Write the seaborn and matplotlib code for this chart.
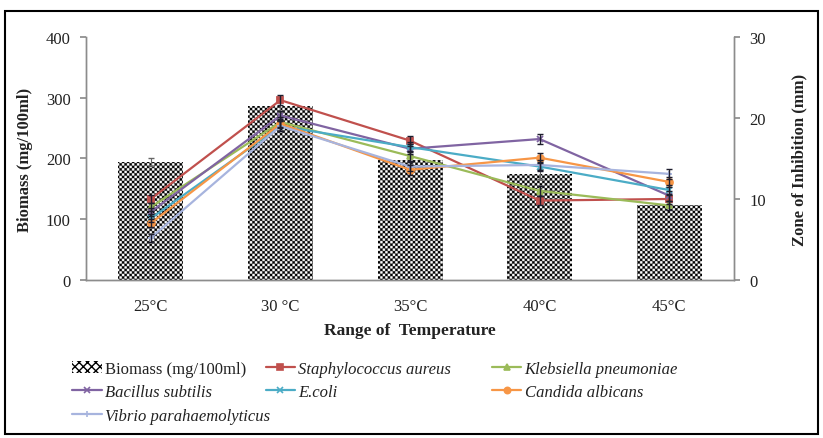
import numpy as np
import pandas as pd
import matplotlib
matplotlib.use("Agg")
import matplotlib.pyplot as plt
from matplotlib.patches import Patch, Rectangle
from matplotlib.lines import Line2D
from matplotlib.font_manager import FontProperties
import seaborn as sns

# ---- data -------------------------------------------------------------
temperatures = ["25°C", "30 °C", "35°C", "40°C", "45°C"]
biomass = [194, 286, 198, 174, 123]          # mg/100ml
biomass_err = [6, 10, 7, 8, 5]

staphylococcus = [10.0, 22.2, 17.2, 9.8, 10.0]   # zone of inhibition, mm
klebsiella = [9.0, 19.5, 15.3, 11.0, 9.2]
bacillus = [8.4, 20.3, 16.2, 17.4, 10.4]
e_coli = [7.6, 19.0, 16.4, 14.0, 11.1]
candida = [7.0, 19.3, 13.6, 15.1, 12.1]
vibrio = [5.2, 19.0, 14.0, 14.2, 13.1]
zone_err = [0.5, 0.6, 0.6, 0.6, 0.6]

species_names = ["Staphylococcus aureus", "Klebsiella pneumoniae", "Bacillus subtilis",
                 "E.coli", "Candida albicans", "Vibrio parahaemolyticus"]
species_values = [staphylococcus, klebsiella, bacillus, e_coli, candida, vibrio]
species_colors = ["#C0504D", "#9BBB59", "#8064A2", "#4BACC6", "#F79646", "#A7B4DE"]
species_markers = ["s", "^", "x", "x", "o", "+"]

# ---- style ------------------------------------------------------------
sns.set_theme(style="white")
plt.rcParams["font.family"] = ["Liberation Serif", "DejaVu Serif"]
plt.rcParams["axes.edgecolor"] = "#8c8c8c"
text_color = "#222222"

fig = plt.figure(figsize=(8.23, 4.39), dpi=100)
ax = fig.add_axes([0.1045, 0.36, 0.7875, 0.5535])

# ---- biomass bars -----------------------------------------------------
bar_df = pd.DataFrame({"Temperature": temperatures, "Biomass": biomass})
sns.barplot(data=bar_df, x="Temperature", y="Biomass", order=temperatures,
            color="white", width=0.5, errorbar=None, ax=ax, zorder=1)
ax.errorbar(np.arange(len(temperatures)), biomass, yerr=biomass_err, fmt="none",
            ecolor="#666666", elinewidth=0.8, capsize=2, zorder=2)
ax.set_xlim(-0.5, len(temperatures) - 0.5)
ax.set_ylim(0, 400)

# checkerboard texture, clipped to every bar
fig.canvas.draw()
bbox = ax.get_window_extent()
W, H, ss = int(bbox.width), int(bbox.height), 4
px = (np.arange(W * ss) + 0.5) / ss
py = (np.arange(H * ss) + 0.5) / ss
XX, YY = np.meshgrid(px, py)
period = 5.0
field = np.cos(2 * np.pi * XX / period) * np.cos(2 * np.pi * YY / period)
texture = np.where(field > -0.05, 0.0, 1.0)
x0, x1 = ax.get_xlim()
y0, y1 = ax.get_ylim()
for bar in list(ax.patches):
    bar.set_edgecolor("none")
    im = ax.imshow(texture, cmap="gray", vmin=0, vmax=1, extent=(x0, x1, y0, y1),
                   aspect="auto", interpolation="antialiased", zorder=1.5, origin="lower")
    im.set_clip_path(bar)
ax.set_xlim(x0, x1)
ax.set_ylim(y0, y1)

# ---- zone-of-inhibition lines ----------------------------------------
ax2 = ax.twinx()
positions = np.arange(len(temperatures))
for name, vals, col, mk in zip(species_names, species_values, species_colors, species_markers):
    sns.lineplot(x=positions, y=vals, color=col, marker=mk, markersize=5,
                 markeredgewidth=1.3, markeredgecolor=col, linewidth=1.6,
                 ax=ax2, zorder=3, label=name, legend=False)
for vals in species_values:
    ax2.errorbar(positions, vals, yerr=zone_err, fmt="none", ecolor="#1e1e2e",
                 elinewidth=1.0, capsize=2.0, zorder=4)
ax2.set_ylim(0, 30)
ax2.set_xlim(x0, x1)
ax2.set_xlabel("")

# ---- axes cosmetics ---------------------------------------------------
for a in (ax, ax2):
    a.spines["top"].set_visible(False)
    for s in ("left", "right", "bottom"):
        a.spines[s].set_color("#8c8c8c")
        a.spines[s].set_linewidth(1.0)
    a.grid(False)

serif = "Liberation Serif"
ax.set_xticks(positions)
ax.set_xticklabels(temperatures)
ax.set_yticks([0, 100, 200, 300, 400])
ax2.set_yticks([0, 10, 20, 30])
ax.tick_params(axis="y", direction="out", length=4, color="#8c8c8c",
               labelsize=12, labelcolor=text_color, pad=7, left=True)
ax2.tick_params(axis="y", direction="out", length=4, color="#8c8c8c",
                labelsize=12, labelcolor=text_color, pad=7, right=True)
ax.tick_params(axis="x", length=0, labelsize=12, labelcolor=text_color, pad=13,
               bottom=True, labelbottom=True)
ax2.tick_params(axis="x", bottom=False, labelbottom=False, top=False, labeltop=False)

ax.set_xlabel("Range of  Temperature", fontsize=12.5, fontweight="bold",
              color=text_color, labelpad=6, family=serif)
ax.set_ylabel("Biomass (mg/100ml)", fontsize=12, fontweight="bold",
              color=text_color, labelpad=9, family=serif)
ax2.set_ylabel("Zone of Inhibition (mm)", fontsize=12, fontweight="bold",
               color=text_color, labelpad=18, family=serif)

# ---- legend (three columns below the plot) ---------------------------
biomass_handle = Patch(facecolor="white", edgecolor="black", hatch="xxxx", linewidth=0)
line_handles = {
    name: Line2D([], [], color=col, marker=m, markersize=4.5, linewidth=1.6,
                 markeredgewidth=1.2)
    for name, col, m in zip(species_names, species_colors, species_markers)
}
columns = [
    ([biomass_handle, line_handles["Bacillus subtilis"], line_handles["Vibrio parahaemolyticus"]],
     ["Biomass (mg/100ml)", "Bacillus subtilis", "Vibrio parahaemolyticus"], 0.088),
    ([line_handles["Staphylococcus aureus"], line_handles["E.coli"]],
     ["Staphylococcus aureus", "E.coli"], 0.323),
    ([line_handles["Klebsiella pneumoniae"], line_handles["Candida albicans"]],
     ["Klebsiella pneumoniae", "Candida albicans"], 0.598),
]
legend_font = FontProperties(family=serif, size=12)
for handles, labels, xpos in columns:
    leg = fig.legend(handles, labels, loc="upper left", bbox_to_anchor=(xpos, 0.176),
                     frameon=False, prop=legend_font, handlelength=1.75, handletextpad=0.2,
                     labelspacing=0.45, borderaxespad=0, borderpad=0)
    for t in leg.get_texts():
        t.set_color(text_color)
        if not t.get_text().startswith("Biomass"):
            t.set_fontstyle("italic")

# outer frame
fig.patches.append(Rectangle((0.006, 0.009), 0.988, 0.9636, transform=fig.transFigure,
                             fill=False, edgecolor="black", linewidth=1.5))

fig.savefig("out.png", dpi=100)
